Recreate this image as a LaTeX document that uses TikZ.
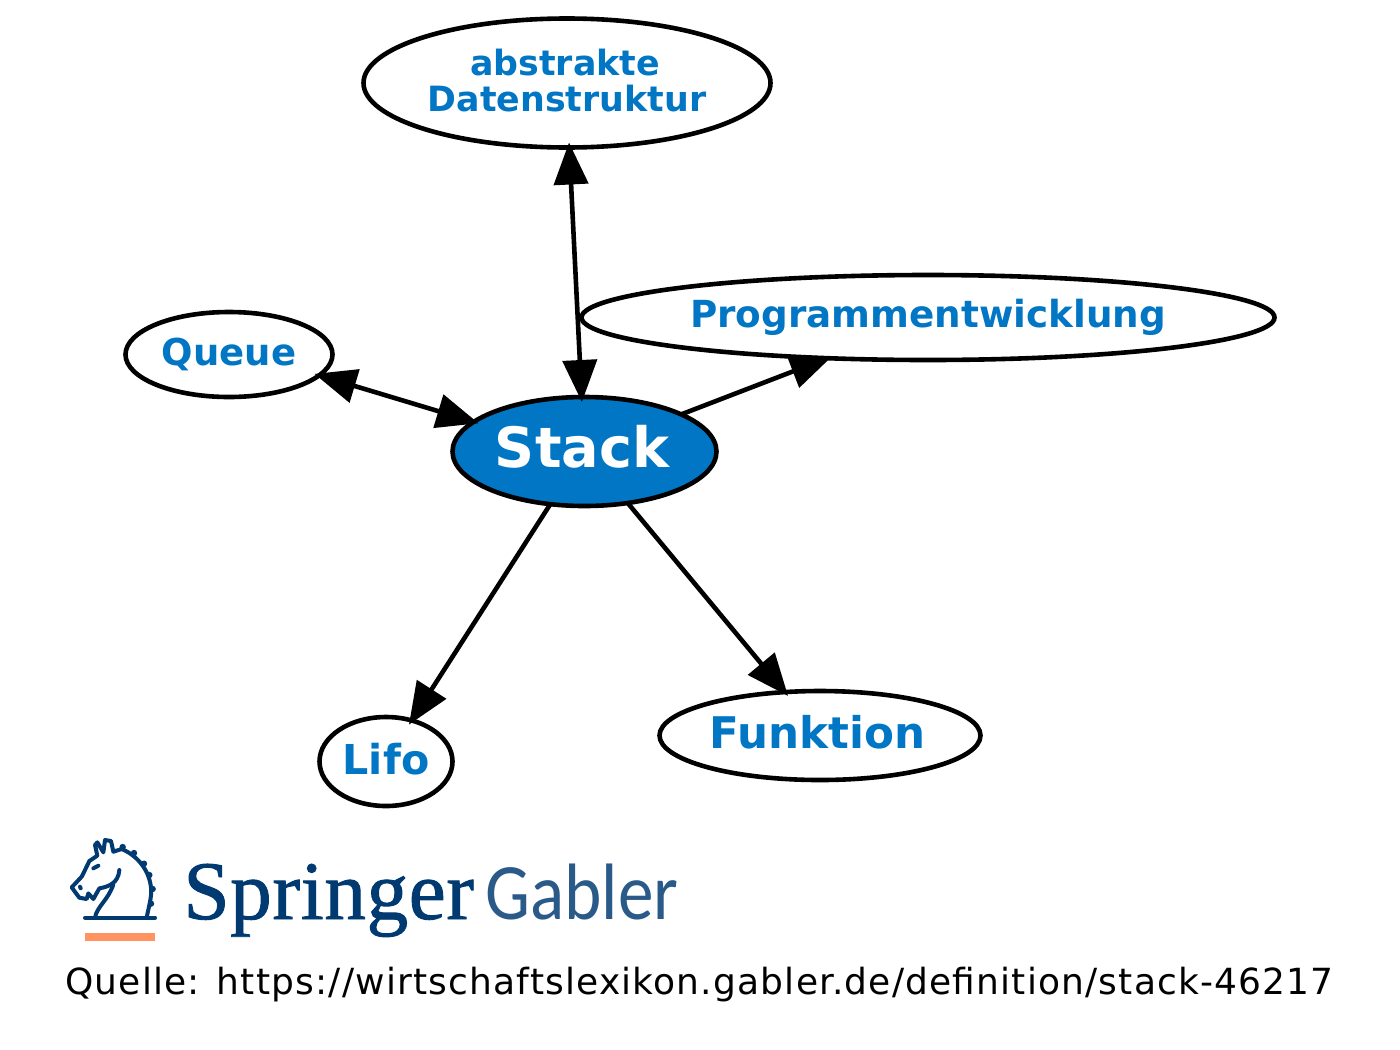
\documentclass[tikz,border=0pt]{standalone}
\usepackage{fontspec}
\setmainfont{DejaVu Sans}
\newfontfamily\springerfont{Liberation Serif}[FakeBold=1.1,LetterSpace=0.7]
\newfontfamily\gablerfont{Carlito}[FakeStretch=0.89]
\newfontfamily\sourcefont{DejaVu Sans}[LetterSpace=3.3]
\usetikzlibrary{arrows.meta,shapes.geometric}
\definecolor{gablerblue}{HTML}{0076C4}
\definecolor{springerblue}{HTML}{003A70}
\definecolor{gablerlight}{HTML}{2A5A88}
\definecolor{springerorange}{HTML}{FF9460}
\tikzset{
  concept/.style={ellipse,draw=black,line width=2.3pt,fill=white,inner sep=0pt,outer sep=0pt,
    text=gablerblue,align=center,font=\bfseries\fontsize{#1}{18}\selectfont},
  central/.style={concept=#1,fill=gablerblue,text=white},
  link/.style={line width=2.3pt,draw=black},
  onetip/.style={link,shorten >=-2.5pt,-{Triangle[length=21pt,width=17pt]}},
  twotips/.style={link,shorten >=-2.5pt,shorten <=-2.5pt,{Triangle[length=21pt,width=17pt]}-{Triangle[length=21pt,width=17pt]}},
  horseline/.style={draw=springerblue,line width=2pt,line join=round,line cap=round}
}
\begin{document}
\begin{tikzpicture}[x=0.5pt,y=-0.5pt]
\useasboundingbox (0,0) rectangle (1400,1049);
\node[concept=17.4,minimum width=203.5pt,minimum height=64.5pt] (abs) at (567,83) {\raisebox{2.5pt}{\hspace*{-2pt}abstrakte}\\\raisebox{2.5pt}{Datenstruktur}};
\node[concept=18.65,minimum width=346.5pt,minimum height=42.5pt] (prog) at (928,317.5) {\raisebox{0.5pt}{Programmentwicklung}};
\node[concept=18.5,minimum width=103.5pt,minimum height=42.5pt] (queue) at (229,354.5) {\raisebox{0.5pt}{Queue}};
\node[central=27.8,minimum width=132pt,minimum height=54.5pt] (stack) at (584.5,451.5) {\raisebox{5pt}{\hspace*{-2.5pt}Stack}};
\node[concept=20.6,minimum width=66.5pt,minimum height=44.5pt] (lifo) at (386,761.5) {\raisebox{3pt}{Lifo}};
\node[concept=21.8,minimum width=160.5pt,minimum height=44.5pt] (funk) at (820,735.5) {\raisebox{3.5pt}{\hspace*{-2.5pt}Funktion}};
\draw[twotips] (abs.272) -- (stack.93);
\draw[twotips] (queue.-13) -- (stack.165);
\draw[onetip] (stack.21.8) -- (prog.202.5);
\draw[onetip] (stack.237) -- (lifo.58.3);
\draw[onetip] (stack.-50.9) -- (funk.129.3);
% Springer logo
\begin{scope}[shift={(50,825)},x=0.1667pt,y=-0.1667pt]
\fill[springerorange] (105,323) rectangle (315,349);
\draw[horseline] (105,278) -- (315,278);
\draw[horseline] (290,278) .. controls (296,245) and (306,215) .. (303,190)
  .. controls (300,145) and (270,95) .. (215,72)
  -- (190,80) -- (183,48) -- (165,45) -- (160,82) -- (142,52) -- (135,60) -- (142,92)
  -- (118,108) -- (105,135) -- (95,155) -- (65,187) -- (88,218) -- (110,222) -- (115,205) -- (130,222)
  -- (148,190) .. controls (175,185) and (205,175) .. (208,135);
\draw[horseline] (135,278) .. controls (140,245) and (175,225) .. (190,178);
\draw[horseline] (130,130) -- (145,122);
\draw[horseline] (90,185) -- (92,190);
\foreach \mx/\my in {218/66,252/84,282/116,298/150,308/192,303/236}{
  \fill[springerblue] (\mx,\my) circle [radius=1.6pt];
}
\end{scope}
\node[anchor=base west,inner sep=0pt,text=springerblue,font=\springerfont\fontsize{41.6}{42}\selectfont] (springer) at (183,919) {Springer};
\node[anchor=base west,inner sep=0pt,text=gablerlight,font=\gablerfont\fontsize{40}{40}\selectfont] (gabler) at (485,919) {Gabler};
\node[anchor=base west,inner sep=0pt,text=black,font=\sourcefont\fontsize{18}{18}\selectfont] (src) at (65,994) {Quelle: https://wirtschaftslexikon.gabler.de/definition/stack-46217};
\end{tikzpicture}
\end{document}
